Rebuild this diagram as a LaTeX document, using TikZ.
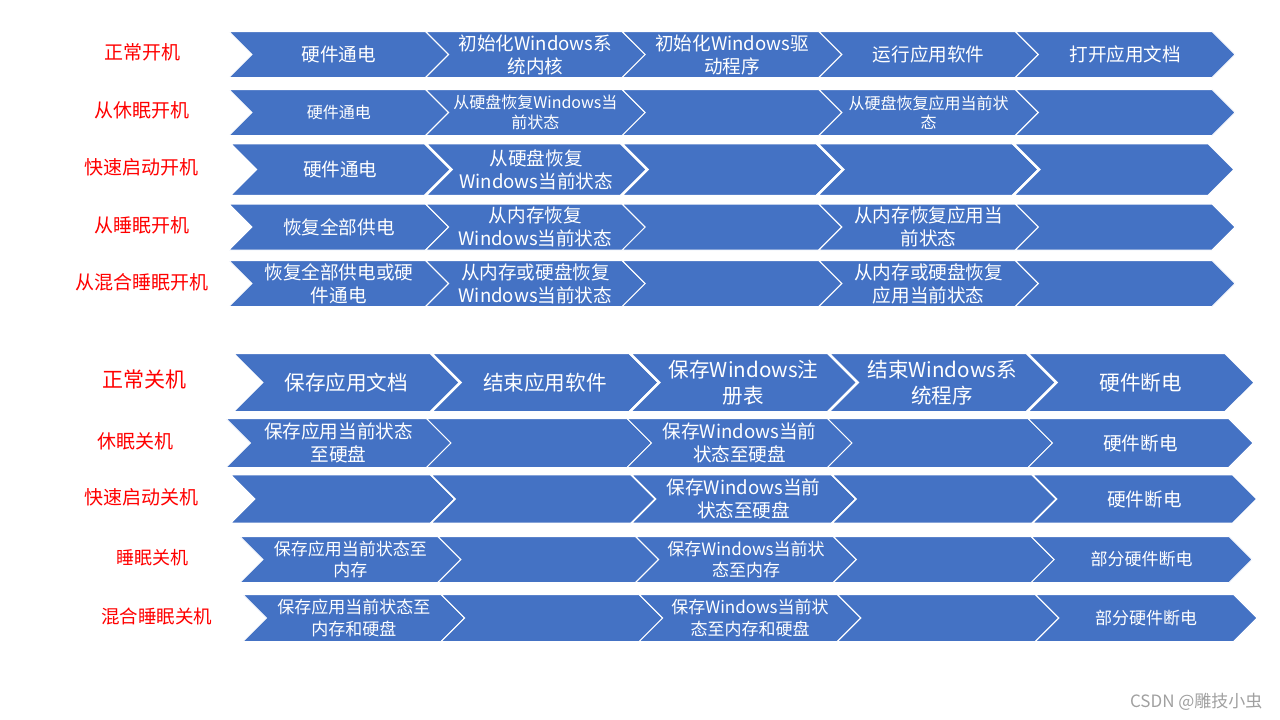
\documentclass[tikz,border=0pt]{standalone}
\usepackage{fontspec}
\setmainfont{Noto Sans CJK SC}
\usetikzlibrary{shapes.symbols}

\definecolor{chevblue}{HTML}{4472C4}
\definecolor{markgray}{HTML}{A0A0A0}

\tikzset{
  chev/.style={signal, signal from=west, signal to=east, fill=chevblue,
    draw=white, line width=1pt, inner sep=0pt, text=white, align=center},
  thickgap/.style={line width=2.5pt},
  rowlabel/.style={text=red, font=\fontsize{19}{23}\selectfont},
  sz16/.style={font=\fontsize{16}{19.5}\selectfont},
  sz17/.style={font=\fontsize{17}{21.5}\selectfont},
  sz19/.style={font=\fontsize{18.6}{23}\selectfont},
  sz21/.style={font=\fontsize{20.6}{26}\selectfont}
}

\begin{document}
\begin{tikzpicture}[x=1pt,y=-1pt]
                \useasboundingbox (0,0) rectangle (1280,720);

                % power on
                \node[rowlabel] (lp1) at (142,52) {正常开机};
                \node[rowlabel] (lp2) at (142,110) {从休眠开机};
                \node[rowlabel] (lp3) at (141.5,167) {快速启动开机};
                \node[rowlabel] (lp4) at (142,225) {从睡眠开机};
                \node[rowlabel] (lp5) at (141.5,282) {从混合睡眠开机};

                \begin{scope}[nodes={chev, sz19, minimum width=219.6, minimum height=46}]
                \node (p11) at (338.8,54.5) {硬件通电};
                \node (p12) at (535.4,54.5) {初始化Windows系\\统内核};
                \node (p13) at (732.0,54.5) {初始化Windows驱\\动程序};
                \node (p14) at (928.6,54.5) {运行应用软件};
                \node (p15) at (1125.2,54.5) {打开应用文档};
                \end{scope}

                \begin{scope}[nodes={chev, sz16, minimum width=219.6, minimum height=46}]
                \node (p21) at (338.8,112.5) {硬件通电};
                \node (p22) at (535.4,112.5) {从硬盘恢复Windows当\\前状态};
                \node (p23) at (732.0,112.5) {};
                \node (p24) at (928.6,112.5) {从硬盘恢复应用当前状\\态};
                \node (p25) at (1125.2,112.5) {};
                \end{scope}

                \begin{scope}[nodes={chev, thickgap, sz19, minimum width=222.4, minimum height=53}]
                \node (p31) at (340.2,169.5) {硬件通电};
                \node (p32) at (536.1,169.5) {从硬盘恢复\\Windows当前状态};
                \node (p33) at (732.0,169.5) {};
                \node (p34) at (927.9,169.5) {};
                \node (p35) at (1123.8,169.5) {};
                \end{scope}

                \begin{scope}[nodes={chev, sz19, minimum width=219.6, minimum height=46}]
                \node (p41) at (338.8,227) {恢复全部供电};
                \node (p42) at (535.4,227) {从内存恢复\\Windows当前状态};
                \node (p43) at (732.0,227) {};
                \node (p44) at (928.6,227) {从内存恢复应用当\\前状态};
                \node (p45) at (1125.2,227) {};
                \end{scope}

                \begin{scope}[nodes={chev, sz19, minimum width=219.6, minimum height=46}]
                \node (p51) at (338.8,283.5) {恢复全部供电或硬\\件通电};
                \node (p52) at (535.4,283.5) {从内存或硬盘恢复\\Windows当前状态};
                \node (p53) at (732.0,283.5) {};
                \node (p54) at (928.6,283.5) {从内存或硬盘恢复\\应用当前状态};
                \node (p55) at (1125.2,283.5) {};
                \end{scope}

                % power off
                \node[rowlabel, font=\fontsize{21}{25}\selectfont] (lq1) at (144,380) {正常关机};
                \node[rowlabel] (lq2) at (135.5,441) {休眠关机};
                \node[rowlabel] (lq3) at (141.5,497) {快速启动关机};
                \node[rowlabel, font=\fontsize{18}{22}\selectfont] (lq4) at (152,558) {睡眠关机};
                \node[rowlabel, font=\fontsize{18.5}{22}\selectfont] (lq5) at (156.5,616) {混合睡眠关机};

                \begin{scope}[nodes={chev, thickgap, sz21, minimum width=228.4, minimum height=59.5}]
                \node (q11) at (346.2,382.5) {保存应用文档};
                \node (q12) at (544.85,382.5) {结束应用软件};
                \node (q13) at (743.5,382.5) {保存Windows注\\册表};
                \node (q14) at (942.15,382.5) {结束Windows系\\统程序};
                \node (q15) at (1140.8,382.5) {硬件断电};
                \end{scope}

                \begin{scope}[nodes={chev, sz19, minimum width=225, minimum height=49}]
                \node (q21) at (338.5,443) {保存应用当前状态\\至硬盘};
                \node (q22) at (539,443) {};
                \node (q23) at (739.5,443) {保存Windows当前\\状态至硬盘};
                \node (q24) at (940,443) {};
                \node (q25) at (1140.5,443) {硬件断电};
                \end{scope}

                \begin{scope}[nodes={chev, line width=1.6pt, sz19, minimum width=225, minimum height=49}]
                \node (q31) at (342.5,499) {};
                \node (q32) at (543,499) {};
                \node (q33) at (743.5,499) {保存Windows当前\\状态至硬盘};
                \node (q34) at (944,499) {};
                \node (q35) at (1144.5,499) {硬件断电};
                \end{scope}

                \begin{scope}[nodes={chev, sz17, minimum width=220.8, minimum height=46}]
                \node (q41) at (350.4,559.5) {保存应用当前状态至\\内存};
                \node (q42) at (548.2,559.5) {};
                \node (q43) at (746,559.5) {保存Windows当前状\\态至内存};
                \node (q44) at (943.8,559.5) {};
                \node (q45) at (1141.6,559.5) {部分硬件断电};
                \end{scope}

                \begin{scope}[nodes={chev, sz17, minimum width=221.6, minimum height=47}]
                \node (q51) at (353.8,618) {保存应用当前状态至\\内存和硬盘};
                \node (q52) at (551.9,618) {};
                \node (q53) at (750,618) {保存Windows当前状\\态至内存和硬盘};
                \node (q54) at (948.1,618) {};
                \node (q55) at (1146.2,618) {部分硬件断电};
                \end{scope}

                \node[anchor=east, text=markgray, font=\fontsize{17}{20}\selectfont] (mark) at (1266,702) {CSDN @雕技小虫};

            \end{tikzpicture}
\end{document}
